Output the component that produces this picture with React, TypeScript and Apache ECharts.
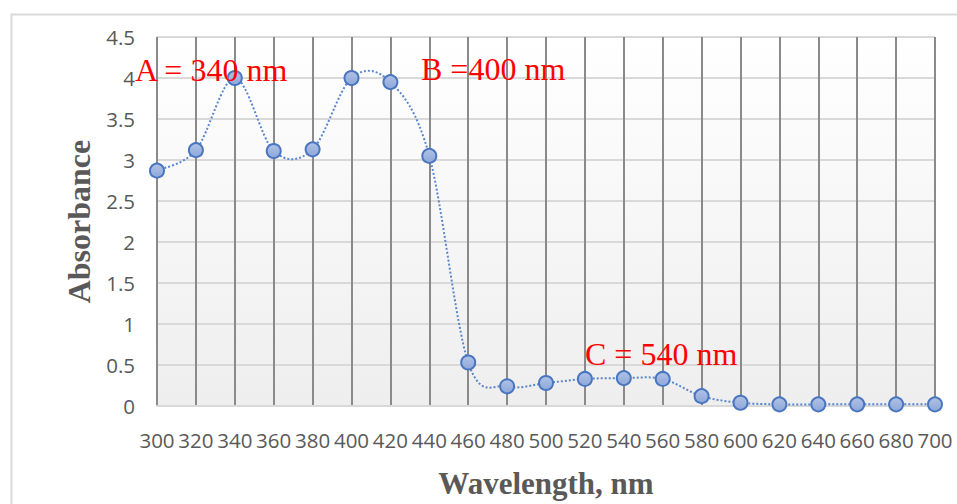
import React, { useEffect, useRef } from "react";
import * as echarts from "echarts";

const wavelengths = ["300","320","340","360","380","400","420","440","460","480","500","520","540","560","580","600","620","640","660","680","700"];
const absorbance = [2.87,3.12,4.0,3.11,3.13,4.0,3.95,3.05,0.53,0.24,0.28,0.33,0.34,0.33,0.12,0.04,0.02,0.02,0.02,0.02,0.02];
const yTicks = { min: 0, max: 4.5, interval: 0.5 };
const annotations = [
  { text: "A = 340 nm", x: 135, y: 70 },
  { text: "B =400 nm", x: 421, y: 69 },
  { text: "C = 540 nm", x: 585, y: 354 },
];
const xTitle = "Wavelength, nm";
const yTitle = "Absorbance";

export default function App() {
  const ref = useRef<HTMLDivElement>(null);
  useEffect(() => {
    const chart = echarts.init(ref.current!, null, { renderer: "svg" });
    const t = 1 / 6;
    chart.setOption({
      animation: false,
      backgroundColor: "#ffffff",
      grid: {
        left: 157,
        right: 22,
        top: 37,
        bottom: 95,
        show: true,
        borderWidth: 0,
        backgroundColor: {
          type: "linear", x: 0, y: 0, x2: 0, y2: 1,
          colorStops: [
            { offset: 0, color: "#ffffff" },
            { offset: 1, color: "#eeeeee" },
          ],
        },
      },
      xAxis: {
        type: "category",
        data: wavelengths,
        boundaryGap: false,
        axisLine: { show: true, lineStyle: { color: "#d9d9d9", width: 2 } },
        axisTick: { show: false },
        axisLabel: {
          interval: 0,
          margin: 23,
          color: "#595959",
          fontFamily: "Open Sans",
          fontSize: 20.5,
        },
        splitLine: { show: true, lineStyle: { color: "#8a8a8a", width: 2 } },
        name: xTitle,
        nameLocation: "middle",
        nameGap: 62,
        nameTextStyle: {
          fontFamily: "Liberation Serif",
          fontWeight: "bold",
          fontSize: 31,
          color: "#595959",
        },
      },
      yAxis: {
        type: "value",
        min: yTicks.min,
        max: yTicks.max,
        interval: yTicks.interval,
        axisLine: { show: false },
        axisTick: { show: false },
        axisLabel: {
          margin: 22,
          color: "#595959",
          fontFamily: "Open Sans",
          fontSize: 20.5,
        },
        splitLine: { show: true, lineStyle: { color: "#d9d9d9", width: 2 } },
        name: yTitle,
        nameLocation: "middle",
        nameGap: 62,
        nameRotate: 90,
        nameTextStyle: {
          fontFamily: "Liberation Serif",
          fontWeight: "bold",
          fontSize: 32,
          color: "#595959",
        },
      },
      series: [
        {
          type: "custom",
          data: absorbance.map((v, i) => [i, v]),
          encode: { x: 0, y: 1 },
          silent: true,
          z: 3,
          renderItem: (params: any, api: any) => {
            if (params.dataIndex !== 0) return null;
            const p = absorbance.map((v, i) => api.coord([i, v]));
            const n = p.length;
            let d = `M${p[0][0]},${p[0][1]}`;
            for (let i = 0; i < n - 1; i++) {
              const p0 = p[Math.max(i - 1, 0)];
              const p1 = p[i];
              const p2 = p[i + 1];
              const p3 = p[Math.min(i + 2, n - 1)];
              const c1x = p1[0] + (p2[0] - p0[0]) * t;
              const c1y = p1[1] + (p2[1] - p0[1]) * t;
              const c2x = p2[0] - (p3[0] - p1[0]) * t;
              const c2y = p2[1] - (p3[1] - p1[1]) * t;
              d += ` C${c1x},${c1y} ${c2x},${c2y} ${p2[0]},${p2[1]}`;
            }
            return {
              type: "path",
              shape: { pathData: d },
              style: {
                fill: "none",
                stroke: "#5b86cc",
                lineWidth: 2,
                lineDash: [2, 2],
              },
            };
          },
        },
        {
          type: "line",
          data: absorbance,
          symbol: "circle",
          symbolSize: 14,
          lineStyle: { opacity: 0, width: 0 },
          itemStyle: {
            color: {
              type: "linear", x: 0, y: 0, x2: 0, y2: 1,
              colorStops: [
                { offset: 0, color: "#b0c2e6" },
                { offset: 1, color: "#8ea8da" },
              ],
            },
            borderColor: "#4a76c0",
            borderWidth: 2,
          },
          z: 5,
        },
      ],
      graphic: [
        {
          type: "rect",
          left: 9,
          top: 12,
          shape: { width: 1000, height: 600 },
          style: { fill: "none", stroke: "#d9d9d9", lineWidth: 2 },
          silent: true,
          z: 0,
        },
        ...annotations.map((a) => ({
          type: "text",
          x: a.x,
          y: a.y,
          z: 10,
          style: {
            text: a.text,
            fill: "#ff0000",
            fontFamily: "Liberation Serif",
            fontSize: 32,
            textAlign: "left",
            textVerticalAlign: "middle",
          },
        })),
      ],
    });
    return () => chart.dispose();
  }, []);
  return (
    <div
      ref={ref}
      style={{ position: "absolute", left: 0, top: 0, width: 957, height: 504 }}
    />
  );
}
